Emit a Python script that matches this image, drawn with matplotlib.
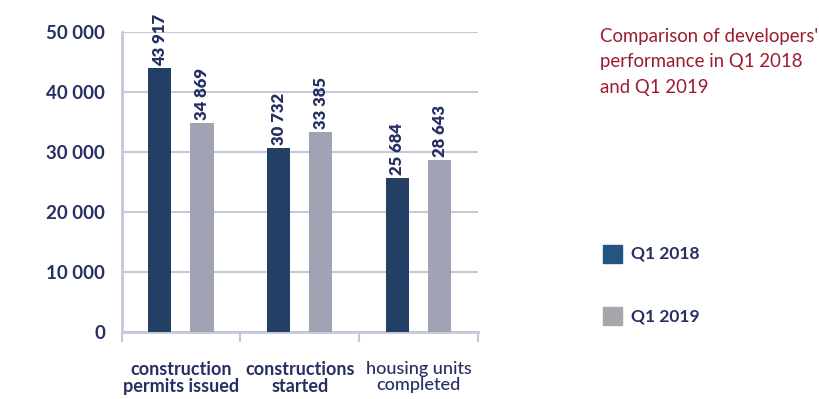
import numpy as np
import matplotlib.pyplot as plt
from matplotlib.patches import Rectangle

categories = ["construction\npermits issued", "constructions\nstarted", "housing units\ncompleted"]
q1_2018 = [43917, 30732, 25684]
q1_2019 = [34869, 33385, 28643]
series_names = ["Q1 2018", "Q1 2019"]
yticks = [0, 10000, 20000, 30000, 40000, 50000]

navy = "#233f66"
grey = "#a0a3b4"
text_col = "#262f63"
line_col = "#c3c9d9"
title_col = "#9b1c2e"

fig = plt.figure(figsize=(8.19, 3.99), dpi=100)
ax = fig.add_axes([0.1485, 0.168, 0.435, 0.752])

x = np.arange(len(categories))
w = 0.194
off = 0.177
b1 = ax.bar(x - off, q1_2018, w, color=navy, zorder=3)
b2 = ax.bar(x + off, q1_2019, w, color=grey, zorder=3)

# value labels, rotated above each bar
for bars in (b1, b2):
    for r in bars:
        v = r.get_height()
        ax.annotate(f"{v:,}".replace(",", " "),
                    (r.get_x() + r.get_width() / 2, v),
                    xytext=(0, 2), textcoords="offset points",
                    rotation=90, ha="center", va="bottom",
                    fontsize=12, fontweight="heavy", color=text_col,
                    family="Lato", zorder=4, annotation_clip=False)

ax.set_xlim(-0.5, 2.5)
ax.set_ylim(0, 50000)
ax.set_yticks(yticks)
ax.set_yticklabels([f"{t:,}".replace(",", " ") for t in yticks],
                   fontsize=13.5, fontweight="bold", color=text_col, family="Lato")
ax.yaxis.grid(True, color=line_col, lw=1.5, zorder=0)
ax.tick_params(axis="y", length=0, pad=12)

# category boundaries as long ticks on the bottom axis
ax.set_xticks([-0.5, 0.5, 1.5, 2.5])
ax.set_xticklabels([])
ax.tick_params(axis="x", length=7, width=1.5, color=line_col)
ax.set_xticks(x, minor=True)
ax.set_xticklabels(categories, minor=True, fontsize=13, fontweight="bold",
                   color=text_col, family="Lato", linespacing=1.0)
ax.tick_params(axis="x", which="minor", length=0, pad=21)
ax.get_xticklabels(minor=True)[2].set_fontweight("medium")

for s in ("top", "right"):
    ax.spines[s].set_visible(False)
for s in ("left", "bottom"):
    ax.spines[s].set_color(line_col)
    ax.spines[s].set_linewidth(2)

fig.text(0.733, 0.93, "Comparison of developers'\nperformance in Q1 2018\nand Q1 2019",
         ha="left", va="top", fontsize=13.4, color=title_col, family="Lato",
         linespacing=1.6)

# legend swatches
for i, (name, c) in enumerate(zip(series_names, ["#245580", "#a6a7ab"])):
    yy = 0.341 - i * 0.156
    fig.patches.append(Rectangle((0.736, yy), 0.023, 0.046, color=c,
                                 transform=fig.transFigure))
    fig.text(0.77, yy + 0.023, name, ha="left", va="center", fontsize=12.5,
             fontweight="bold", color=text_col, family="Lato")

fig.savefig("out.png", dpi=100)
